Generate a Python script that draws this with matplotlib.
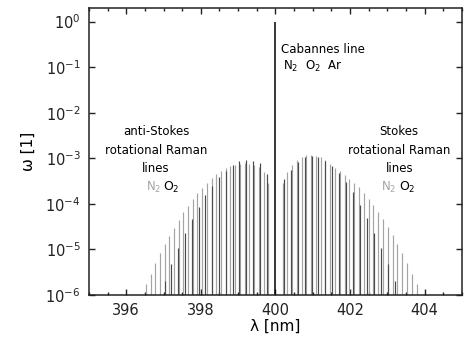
import numpy as np
import matplotlib
matplotlib.use("Agg")
import matplotlib.pyplot as plt
from matplotlib.ticker import MultipleLocator, LogLocator, NullLocator

# wavelengths [nm] and log10 of relative intensity
n2_as_wl = [399.809, 399.682, 399.555, 399.428, 399.301, 399.174, 399.047, 398.921,
            398.794, 398.668, 398.541, 398.415, 398.288, 398.162, 398.036, 397.910,
            397.784, 397.658, 397.533, 397.407, 397.281, 397.156, 397.030, 396.905,
            396.779, 396.654, 396.529]
n2_as_logw = [-3.55, -3.31, -3.20, -3.14, -3.12, -3.10, -3.12, -3.14,
              -3.17, -3.22, -3.28, -3.35, -3.44, -3.54, -3.65, -3.77,
              -3.90, -4.04, -4.19, -4.35, -4.52, -4.70, -4.89, -5.09,
              -5.30, -5.53, -5.77]

n2_st_wl = [400.191, 400.319, 400.446, 400.574, 400.702, 400.829, 400.957, 401.085,
            401.213, 401.341, 401.470, 401.598, 401.726, 401.855, 401.983, 402.112,
            402.241, 402.370, 402.498, 402.627, 402.756, 402.885, 403.015, 403.144,
            403.273, 403.403, 403.533, 403.662, 403.792]
n2_st_logw = [-3.54, -3.30, -3.15, -3.04, -2.97, -2.93, -2.92, -2.94,
              -2.98, -3.04, -3.12, -3.21, -3.29, -3.37, -3.45, -3.54,
              -3.64, -3.76, -3.89, -4.03, -4.18, -4.34, -4.51, -4.69,
              -4.88, -5.08, -5.30, -5.53, -5.77]

o2_as_wl = [399.770, 399.586, 399.403, 399.219, 399.036, 398.853, 398.670, 398.488,
            398.305, 398.123, 397.941, 397.759, 397.577, 397.395, 397.213, 397.032]
o2_as_logw = [-3.35, -3.11, -3.05, -3.03, -3.07, -3.15, -3.27, -3.41,
              -3.61, -3.81, -4.06, -4.34, -4.63, -4.96, -5.31, -5.70]

o2_st_wl = [400.230, 400.415, 400.599, 400.784, 400.968, 401.153, 401.339, 401.524,
            401.709, 401.895, 402.081, 402.267, 402.453, 402.639, 402.826, 403.013,
            403.199]
o2_st_logw = [-3.45, -3.25, -3.08, -2.98, -2.94, -2.98, -3.06, -3.18,
              -3.33, -3.52, -3.74, -4.02, -4.30, -4.63, -4.96, -5.31,
              -5.69]

cabannes_wl = 400.0
cabannes_w = 1.0

ymin = 1e-6
n2_col = "#a4a4a4"
o2_col = "#4a4a4a"

fig = plt.figure(figsize=(4.68, 3.41), dpi=100)
ax = fig.add_axes([0.190, 0.135, 0.797, 0.842])
ax.set_yscale("log")

ax.vlines(n2_as_wl + n2_st_wl, ymin, np.power(10.0, n2_as_logw + n2_st_logw),
          color=n2_col, lw=0.85)
ax.vlines(o2_as_wl + o2_st_wl, ymin, np.power(10.0, o2_as_logw + o2_st_logw),
          color=o2_col, lw=0.85)
ax.vlines([cabannes_wl], ymin, [cabannes_w], color="black", lw=1.1)

ax.set_xlim(395, 405)
ax.set_ylim(ymin, 2.0)

ax.xaxis.set_major_locator(MultipleLocator(2))
ax.xaxis.set_minor_locator(MultipleLocator(0.5))
ax.yaxis.set_major_locator(LogLocator(base=10, numticks=10))
ax.yaxis.set_minor_locator(NullLocator())
ax.tick_params(which="both", direction="in", top=True, right=True, width=1.0,
               labelsize=10.5, colors="#222222")
ax.tick_params(which="major", length=4.5, pad=6)
ax.tick_params(which="minor", length=2.2)
for s in ax.spines.values():
    s.set_linewidth(1.1)
    s.set_color("#222222")

ax.set_xlabel("λ [nm]", fontsize=11, labelpad=0)
ax.set_ylabel("ω [1]", fontsize=11, labelpad=7)

fs = 8.5
ax.text(396.8, 10 ** -2.82, "anti-Stokes\nrotational Raman\nlines", ha="center",
        va="center", fontsize=fs, linespacing=1.55)
ax.text(396.93, 10 ** -3.64, r"$\mathregular{N_2}$", ha="right", va="center",
        fontsize=fs, color=n2_col)
ax.text(396.99, 10 ** -3.64, r"$\mathregular{O_2}$", ha="left", va="center",
        fontsize=fs + 0.5, color="black")

ax.text(403.32, 10 ** -2.82, "Stokes\nrotational Raman\nlines", ha="center",
        va="center", fontsize=fs, linespacing=1.55)
ax.text(403.25, 10 ** -3.64, r"$\mathregular{N_2}$", ha="right", va="center",
        fontsize=fs, color=n2_col)
ax.text(403.31, 10 ** -3.64, r"$\mathregular{O_2}$", ha="left", va="center",
        fontsize=fs + 0.5, color="black")

ax.text(400.16, 10 ** -0.62, "Cabannes line", ha="left", va="center", fontsize=fs)
ax.text(400.2, 10 ** -0.99, r"$\mathregular{N_2\ \ O_2\ \ Ar}$", ha="left",
        va="center", fontsize=fs)

fig.savefig("out.png", dpi=100)
